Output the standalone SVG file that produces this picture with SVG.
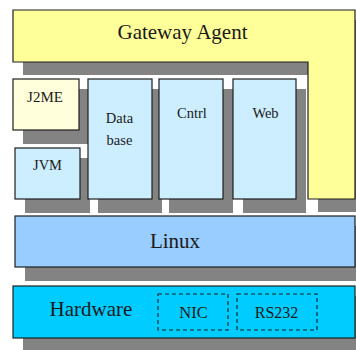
<svg xmlns="http://www.w3.org/2000/svg" width="356" height="350" viewBox="0 0 356 350">
<style>
.sh{fill:#838383;stroke:none}
.bx{stroke:#1e1e1e;stroke-width:1.2}
.y{fill:#FFFF99}
.ly{fill:#FFFFDB}
.lb{fill:#CCEEFF}
.lx{fill:#99CCFF}
.hw{fill:#00CCFF}
.dash{fill:none;stroke:#1e1e1e;stroke-width:1.1;stroke-dasharray:4 3}
text{fill:#1a1a1a;text-anchor:middle}
</style>
<rect width="356" height="350" fill="#ffffff"/>
<g id="shadows">
<polygon class="sh" points="23,20 365,20 365,212 318,212 318,75 23,75"/>
<rect class="sh" x="23" y="89" width="66" height="55"/>
<rect class="sh" x="25" y="158" width="65" height="55"/>
<rect class="sh" x="98" y="89" width="64" height="124"/>
<rect class="sh" x="169" y="89" width="64" height="124"/>
<rect class="sh" x="243" y="89" width="63" height="124"/>
<rect class="sh" x="25" y="226" width="340" height="55"/>
<rect class="sh" x="23" y="296" width="342" height="60"/>
</g>
<g font-family="Liberation Serif, DejaVu Serif, serif">
<g id="gateway">
<polygon class="bx y" points="13,10 355,10 355,199 308,199 308,62 13,62"/>
<text x="182.5" y="39" font-size="21">Gateway Agent</text>
</g>
<g id="j2me">
<rect class="bx ly" x="13" y="79" width="66" height="51"/>
<text x="45" y="102" font-size="15">J2ME</text>
</g>
<g id="jvm">
<rect class="bx lb" x="15" y="148" width="65" height="51"/>
<text x="47.5" y="170" font-size="14.5">JVM</text>
</g>
<g id="database">
<rect class="bx lb" x="88" y="79" width="64" height="120"/>
<text x="119.5" y="123" font-size="14.5">Data</text>
<text x="119.5" y="145" font-size="14.5">base</text>
</g>
<g id="cntrl">
<rect class="bx lb" x="159" y="79" width="64" height="120"/>
<text x="192" y="118" font-size="14.5">Cntrl</text>
</g>
<g id="web">
<rect class="bx lb" x="233" y="79" width="63" height="120"/>
<text x="265.5" y="118" font-size="14.5">Web</text>
</g>
<g id="linux">
<rect class="bx lx" x="15" y="216" width="340" height="51"/>
<text x="175" y="248" font-size="21">Linux</text>
</g>
<g id="hardware">
<rect class="bx hw" x="13" y="286" width="342" height="52"/>
<text x="91" y="316" font-size="21">Hardware</text>
</g>
<g id="nic">
<rect class="dash" x="158" y="294" width="70" height="36"/>
<text x="193.5" y="318" font-size="16.5">NIC</text>
</g>
<g id="rs232">
<rect class="dash" x="237" y="294" width="80" height="36"/>
<text x="276.5" y="318" font-size="16">RS232</text>
</g>
</g>
<g id="connectors"></g>
</svg>
